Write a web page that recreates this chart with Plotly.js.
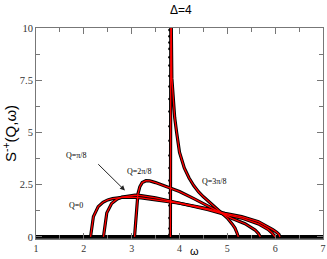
<!DOCTYPE html>
<html>
<head>
<meta charset="utf-8">
<script src="https://cdn.plot.ly/plotly-3.0.1.min.js"></script>
<style>html,body{margin:0;padding:0;background:#fff;}#chart{width:327px;height:259px;}</style>
</head>
<body>
<div id="chart"></div>
<script>
// Q = 0
var q0X = [2.14, 2.16, 2.2, 2.3, 2.4, 2.5, 2.6, 2.8, 3.0, 3.2, 3.5, 3.8, 4.0, 4.3, 4.6, 4.95, 5.3, 5.65, 5.86, 5.95, 6.03, 6.08, 6.1];
var q0Y = [0, 0.35, 0.97, 1.45, 1.66, 1.77, 1.83, 1.89, 1.9, 1.87, 1.78, 1.68, 1.61, 1.48, 1.34, 1.13, 0.97, 0.73, 0.49, 0.35, 0.22, 0.12, 0];
// Q = pi/8
var q1X = [2.41, 2.43, 2.48, 2.58, 2.7, 2.8, 2.95, 3.07, 3.2, 3.5, 3.8, 4.0, 4.3, 4.6, 4.95, 5.3, 5.65, 5.85, 5.93, 5.98, 6.0];
var q1Y = [0, 0.4, 1.15, 1.6, 1.82, 1.91, 1.98, 2.0, 1.98, 1.87, 1.72, 1.62, 1.46, 1.3, 1.08, 0.9, 0.62, 0.36, 0.2, 0.08, 0];
// Q = 2pi/8
var q2X = [3.06, 3.08, 3.1, 3.13, 3.17, 3.22, 3.3, 3.38, 3.5, 3.7, 4.0, 4.3, 4.6, 4.85, 5.09, 5.37, 5.58, 5.65, 5.69];
var q2Y = [0, 0.6, 1.4, 2.05, 2.4, 2.6, 2.69, 2.68, 2.6, 2.43, 2.17, 1.83, 1.48, 1.17, 0.89, 0.63, 0.33, 0.16, 0];
// Q = 3pi/8
var q3X = [3.81, 3.82, 3.84, 3.87, 3.9, 3.94, 4.0, 4.1, 4.2, 4.3, 4.4, 4.5, 4.6, 4.7, 4.8, 4.9, 5.0, 5.1, 5.16, 5.2, 5.23];
var q3Y = [0, 12, 7.6, 6.4, 5.7, 5.0, 4.05, 3.3, 2.82, 2.45, 2.15, 1.92, 1.72, 1.52, 1.33, 1.12, 0.9, 0.62, 0.42, 0.2, 0];
// black data points on the spike of Q = 3pi/8
var spikeX = [3.79, 3.79, 3.79, 3.79, 3.79, 3.79, 3.79, 3.79, 3.79, 3.79, 3.79, 3.79, 3.79, 3.79, 3.79, 3.79, 3.79, 3.79, 3.79, 3.79];
var spikeY = [0.1, 0.4, 0.9, 1.5, 2.1, 2.7, 3.3, 3.9, 4.6, 5.3, 6.0, 6.6, 7.2, 7.7, 8.2, 8.6, 9.0, 9.3, 9.6, 9.9];
// zero baseline of all data sets
var baseX = [1, 7];
var baseY = [0, 0];

var xTicks = [1, 2, 3, 4, 5, 6, 7];
var yTicks = [0, 2.5, 5, 7.5, 10];
var yTickText = ['0', '2.5', '5', '7.5', '10'];

var sets = [[q0X, q0Y], [q1X, q1Y], [q2X, q2Y], [q3X, q3Y]];
var traces = [];
traces.push({x: baseX, y: baseY, type: 'scatter', mode: 'lines',
  line: {color: '#000', width: 3.6}, hoverinfo: 'skip', showlegend: false});
sets.forEach(function (s) {
  traces.push({x: s[0], y: s[1], type: 'scatter', mode: 'lines',
    line: {color: '#000', width: 3.2}, hoverinfo: 'skip', showlegend: false});
});
traces.push({x: spikeX, y: spikeY, type: 'scatter', mode: 'markers',
  marker: {color: '#000', size: 2.6}, hoverinfo: 'skip', showlegend: false});
sets.forEach(function (s) {
  traces.push({x: s[0], y: s[1], type: 'scatter', mode: 'lines',
    line: {color: '#ff0000', width: 1.3}, hoverinfo: 'skip', showlegend: false});
});

var serif = 'Liberation Serif, Times New Roman, serif';
var sans = 'Liberation Sans, Arial, sans-serif';
var axisCommon = {
  showgrid: false, zeroline: false, showline: true, linecolor: '#777', linewidth: 1,
  mirror: 'allticks', ticks: 'inside', ticklen: 6, tickcolor: '#777', tickwidth: 1,
  tickfont: {family: serif, size: 10.5, color: '#333'}
};
var layout = {
  width: 327, height: 259,
  margin: {l: 36, r: 4, t: 28, b: 20},
  paper_bgcolor: '#fff', plot_bgcolor: '#fff',
  title: {text: '\u0394=4', font: {family: sans, size: 12, color: '#000'}, x: 0.553, xanchor: 'center', y: 0.98, yanchor: 'top'},
  xaxis: Object.assign({}, axisCommon, {
    range: [1, 7], tickvals: xTicks, ticktext: xTicks.map(String),
    tickfont: {family: serif, size: 10, color: '#333'},
    minor: {dtick: 0.5, tick0: 1, ticks: 'inside', ticklen: 4, tickcolor: '#777'}
  }),
  yaxis: Object.assign({}, axisCommon, {
    range: [-0.1, 10], tickvals: yTicks, ticktext: yTickText,
    minor: {dtick: 1.25, tick0: 0, ticks: 'inside', ticklen: 4, tickcolor: '#777'},
    title: {text: 'S<sup>-+</sup>(Q,\u03c9)', font: {family: sans, size: 15, color: '#000'}, standoff: 1}
  }),
  annotations: [
    {x: 0.553, y: 0, xref: 'paper', yref: 'paper', yshift: -19, text: '\u03c9', showarrow: false,
      xanchor: 'center', yanchor: 'bottom', borderpad: 0, font: {family: sans, size: 11, color: '#000'}},
    {x: 1.84, y: 3.92, text: 'Q=\u03c0/8', showarrow: false, font: {family: serif, size: 8, color: '#000'}},
    {x: 2.86, y: 2.22, ax: 2.27, ay: 3.55, axref: 'x', ayref: 'y', text: '', showarrow: true,
      arrowhead: 2, arrowsize: 1, arrowwidth: 1, arrowcolor: '#222'},
    {x: 3.17, y: 3.11, text: 'Q=2\u03c0/8', showarrow: false, font: {family: serif, size: 8, color: '#000'}},
    {x: 4.74, y: 2.65, text: 'Q=3\u03c0/8', showarrow: false, font: {family: serif, size: 8, color: '#000'}},
    {x: 1.84, y: 1.48, text: 'Q=0', showarrow: false, font: {family: serif, size: 8, color: '#000'}}
  ]
};
Plotly.newPlot('chart', traces, layout, {displayModeBar: false, staticPlot: true});
</script>
</body>
</html>
